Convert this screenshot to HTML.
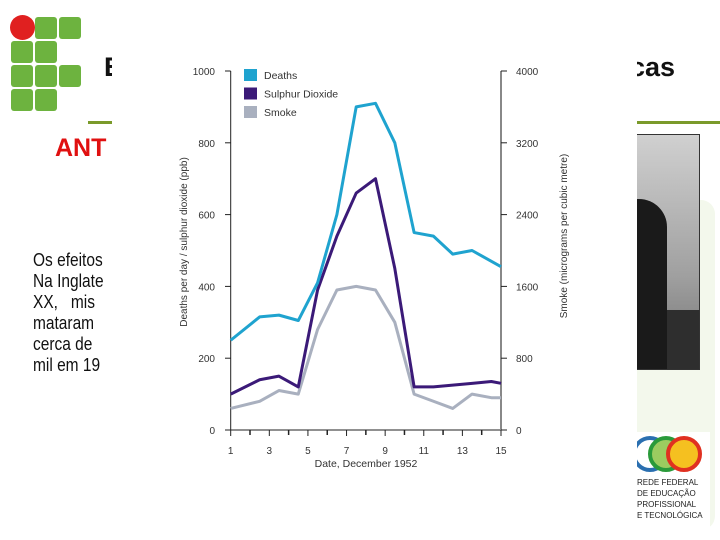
<!DOCTYPE html>
<html><head><meta charset="utf-8"><style>
body{margin:0;width:720px;height:540px;overflow:hidden;background:#fff;font-family:"Liberation Sans",sans-serif;position:relative}
.a{position:absolute}
.sq{position:absolute;width:22px;height:22px;background:#6db33f;border-radius:3px}
</style></head><body>
<div class="a" style="left:0;top:0;width:720px;height:540px">
 <div>
  <div class="sq" style="left:35px;top:17px"></div><div class="sq" style="left:59px;top:17px"></div>
  <div class="sq" style="left:11px;top:41px"></div><div class="sq" style="left:35px;top:41px"></div>
  <div class="sq" style="left:11px;top:65px"></div><div class="sq" style="left:35px;top:65px"></div><div class="sq" style="left:59px;top:65px"></div>
  <div class="sq" style="left:11px;top:89px"></div><div class="sq" style="left:35px;top:89px"></div>
  <div class="a" style="left:10px;top:15px;width:25px;height:25px;border-radius:50%;background:#e02020"></div>
 </div>
 <div class="a" style="left:104px;top:52px;font-size:27px;font-weight:bold;color:#111">E</div>
 <div class="a" style="left:630px;top:52px;font-size:27px;font-weight:bold;color:#111">cas</div>
 <div class="a" style="left:88px;top:121px;width:632px;height:3px;background:#7a9a2a"></div>
 <div class="a" style="left:55px;top:134px;font-size:25px;font-weight:bold;color:#e01010">ANT</div>
 <div class="a" style="left:33px;top:250px;font-size:18px;line-height:21px;color:#111;white-space:pre;transform:scaleX(0.86);transform-origin:0 0">Os efeitos
Na Inglate
XX,   mis
mataram
cerca de
mil em 19</div>
 <div class="a" style="left:600px;top:200px;width:115px;height:330px;background:#f3f8ec;border-radius:14px"></div>
 <div class="a" style="left:620px;top:134px;width:78px;height:234px;background:linear-gradient(#d0d0d0,#a0a0a0 60%,#707070);border:1px solid #333">
  <div class="a" style="left:0;top:64px;width:46px;height:170px;background:#1a1a1a;border-radius:16px 28px 0 0"></div>
  <div class="a" style="left:46px;top:175px;width:32px;height:59px;background:#2e2e2e"></div>
 </div>
 <div class="a" style="left:630px;top:432px;width:80px;height:98px;background:#fff">
  <div class="a" style="left:2px;top:4px;width:28px;height:28px;border-radius:50%;border:4px solid #2a6fb0;background:#fff"></div>
  <div class="a" style="left:18px;top:4px;width:28px;height:28px;border-radius:50%;border:4px solid #2a9a3a;background:#9ccc60"></div>
  <div class="a" style="left:36px;top:4px;width:28px;height:28px;border-radius:50%;border:4px solid #e03020;background:#f5c020"></div>
  <div class="a" style="left:7px;top:45px;font-size:8px;line-height:11px;color:#222;white-space:pre">REDE FEDERAL
DE EDUCAÇÃO
PROFISSIONAL
E TECNOLÓGICA</div>
 </div>
</div>
<div class="a" style="left:112px;top:0;width:525px;height:532px;background:#fff"></div>
<svg class="a" style="left:0;top:0" width="720" height="540" id="chart" font-family="Liberation Sans, sans-serif"></svg>
<script>
const deathDays=[1,2.5,3.5,4.5,5.5,6.5,7.5,8.5,9.5,10.5,11.5,12.5,13.5,15];
const deaths=[250,315,320,305,410,600,900,910,800,550,540,490,500,455];
const so2Days=[1,2.5,3.5,4.5,5.5,6.5,7.5,8.5,9.5,10.5,11.5,12.5,13.5,14.5,15];
const so2=[100,140,150,120,390,540,660,700,450,120,120,125,130,135,130];
const smokeDays=[1,2.5,3.5,4.5,5.5,6.5,7.5,8.5,9.5,10.5,11.5,12.5,13.5,14.5,15];
const smoke=[240,320,440,400,1120,1560,1600,1560,1200,400,320,240,400,360,360];
const leftTicks=[0,200,400,600,800,1000];
const rightTicks=[0,800,1600,2400,3200,4000];
const xTicks=[1,3,5,7,9,11,13,15];
const NS="http://www.w3.org/2000/svg",svg=document.getElementById('chart');
const X=d=>230.7+(d-1)*(501-230.7)/14, YL=v=>430-v*(430-71)/1000, YR=v=>430-v*(430-71)/4000;
function el(t,a,p){const e=document.createElementNS(NS,t);for(const k in a)e.setAttribute(k,a[k]);(p||svg).appendChild(e);return e;}
const ax=el('g',{});


el('line',{x1:230.7,y1:71,x2:230.7,y2:430,stroke:'#222','stroke-width':1},ax);
el('line',{x1:230.7,y1:430,x2:501,y2:430,stroke:'#222','stroke-width':1},ax);
el('line',{x1:501,y1:71,x2:501,y2:430,stroke:'#888','stroke-width':2},ax);
leftTicks.forEach(v=>{el('line',{x1:225,x2:230.7,y1:YL(v),y2:YL(v),stroke:'#222'},ax);
 const t=el('text',{x:215,y:YL(v)+4,'text-anchor':'end','font-size':10,fill:'#333'},ax);t.textContent=v;
 
 });
rightTicks.forEach(v=>{el('line',{x1:501,x2:507,y1:YR(v),y2:YR(v),stroke:'#222'},ax);
 const t=el('text',{x:516,y:YR(v)+4,'font-size':10,fill:'#333'},ax);t.textContent=v;
 
 });
for(let d=1;d<=15;d++)el('line',{x1:X(d),x2:X(d),y1:430,y2:d%2?436:435,stroke:'#222','stroke-width':d%2?1:1.5},ax);
xTicks.forEach(d=>{const t=el('text',{x:X(d),y:454,'text-anchor':'middle','font-size':10,fill:'#333'},ax);t.textContent=d;
 
 });
let t=el('text',{x:366,y:467,'text-anchor':'middle','font-size':10.5,fill:'#333'});t.textContent='Date, December 1952';


t=el('text',{x:0,y:0,transform:'translate(187,242) rotate(-90)','text-anchor':'middle','font-size':10,fill:'#333'});t.textContent='Deaths per day / sulphur dioxide (ppb)';


t=el('text',{x:0,y:0,transform:'translate(567,236) rotate(-90)','text-anchor':'middle','font-size':10,fill:'#333'});t.textContent='Smoke (micrograms per cubic metre)';


function line(days,vals,ys,col,name){const p=el('polyline',{points:days.map((d,i)=>X(d)+','+ys(vals[i])).join(' '),fill:'none',stroke:col,'stroke-width':3,'stroke-linejoin':'round'});
 
 }
line(smokeDays,smoke,YR,'#a9b0bf','smoke-line');
line(so2Days,so2,YL,'#3b1a78','sulphur-dioxide-line');
line(deathDays,deaths,YL,'#1fa3cf','deaths-line');
const legNames=['Deaths','Sulphur Dioxide','Smoke'],legCols=['#1fa3cf','#3b1a78','#a9b0bf'];
legNames.forEach((n,i)=>{const g=el('g',{});
 
 
 el('rect',{x:244,y:69+i*18.5,width:13,height:12,fill:legCols[i]},g);
 const tt=el('text',{x:264,y:79+i*18.5,'font-size':10.5,fill:'#333'},g);tt.textContent=n;});
</script>
</body></html>
